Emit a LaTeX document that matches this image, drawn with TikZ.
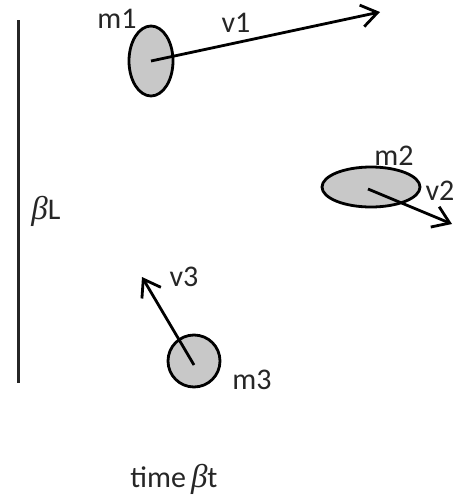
\documentclass[tikz,border=0pt]{standalone}
\usepackage{fontspec}
\setmainfont{Carlito}
\newfontfamily\betafont{Liberation Serif}
\usetikzlibrary{arrows.meta,shapes.geometric}
\definecolor{massgray}{RGB}{200,200,200}
\tikzset{
  mass/.style={ellipse, draw=black, line width=2.8pt, fill=massgray, inner sep=0pt},
  vel/.style={line width=2.8pt, -{Straight Barb[length=16pt,width=22pt,line width=2.8pt]}},
  lbl/.style={font=\fontsize{30}{34}\selectfont, inner sep=0pt, text=black!85}
}
\newcommand{\bet}{{\betafont\itshape\fontsize{33}{34}\selectfont\char"03B2}}
\begin{document}
\begin{tikzpicture}[x=1pt,y=-1pt]
\useasboundingbox (0,0) rectangle (453,501);
% height axis
\coordinate (ltop) at (18,20);
\coordinate (lbot) at (18,383);
\draw[line width=3pt, black!85] (ltop) -- (lbot);
\node[lbl] (bl) at (46,211) {\bet L};
% masses
\node[mass, minimum width=44pt, minimum height=70pt] (m1) at (151,61) {};
\node[mass, minimum width=98pt, minimum height=40pt] (m2) at (371,187) {};
\node[mass, circle, minimum size=52pt] (m3) at (194,361) {};
% labels
\node[lbl] (lm1) at (117,19) {m1};
\node[lbl] (lm2) at (394,156) {m2};
\node[lbl] (lm3) at (252,380) {m3};
\node[lbl] (lv1) at (236,23) {v1};
\node[lbl] (lv2) at (440,191) {v2};
\node[lbl] (lv3) at (184,277) {v3};
% velocities
\coordinate (t1) at (380,12);
\coordinate (t2) at (452,224);
\coordinate (t3) at (142,277);
\draw[vel] (m1.center) -- (t1);
\draw[vel] ([xshift=-3pt,yshift=-2pt]m2.center) -- (t2);
\draw[vel] ([yshift=-4pt]m3.center) -- (t3);
% time
\node[lbl] (time) at (174,479) {time\,\bet t};
\end{tikzpicture}
\end{document}
